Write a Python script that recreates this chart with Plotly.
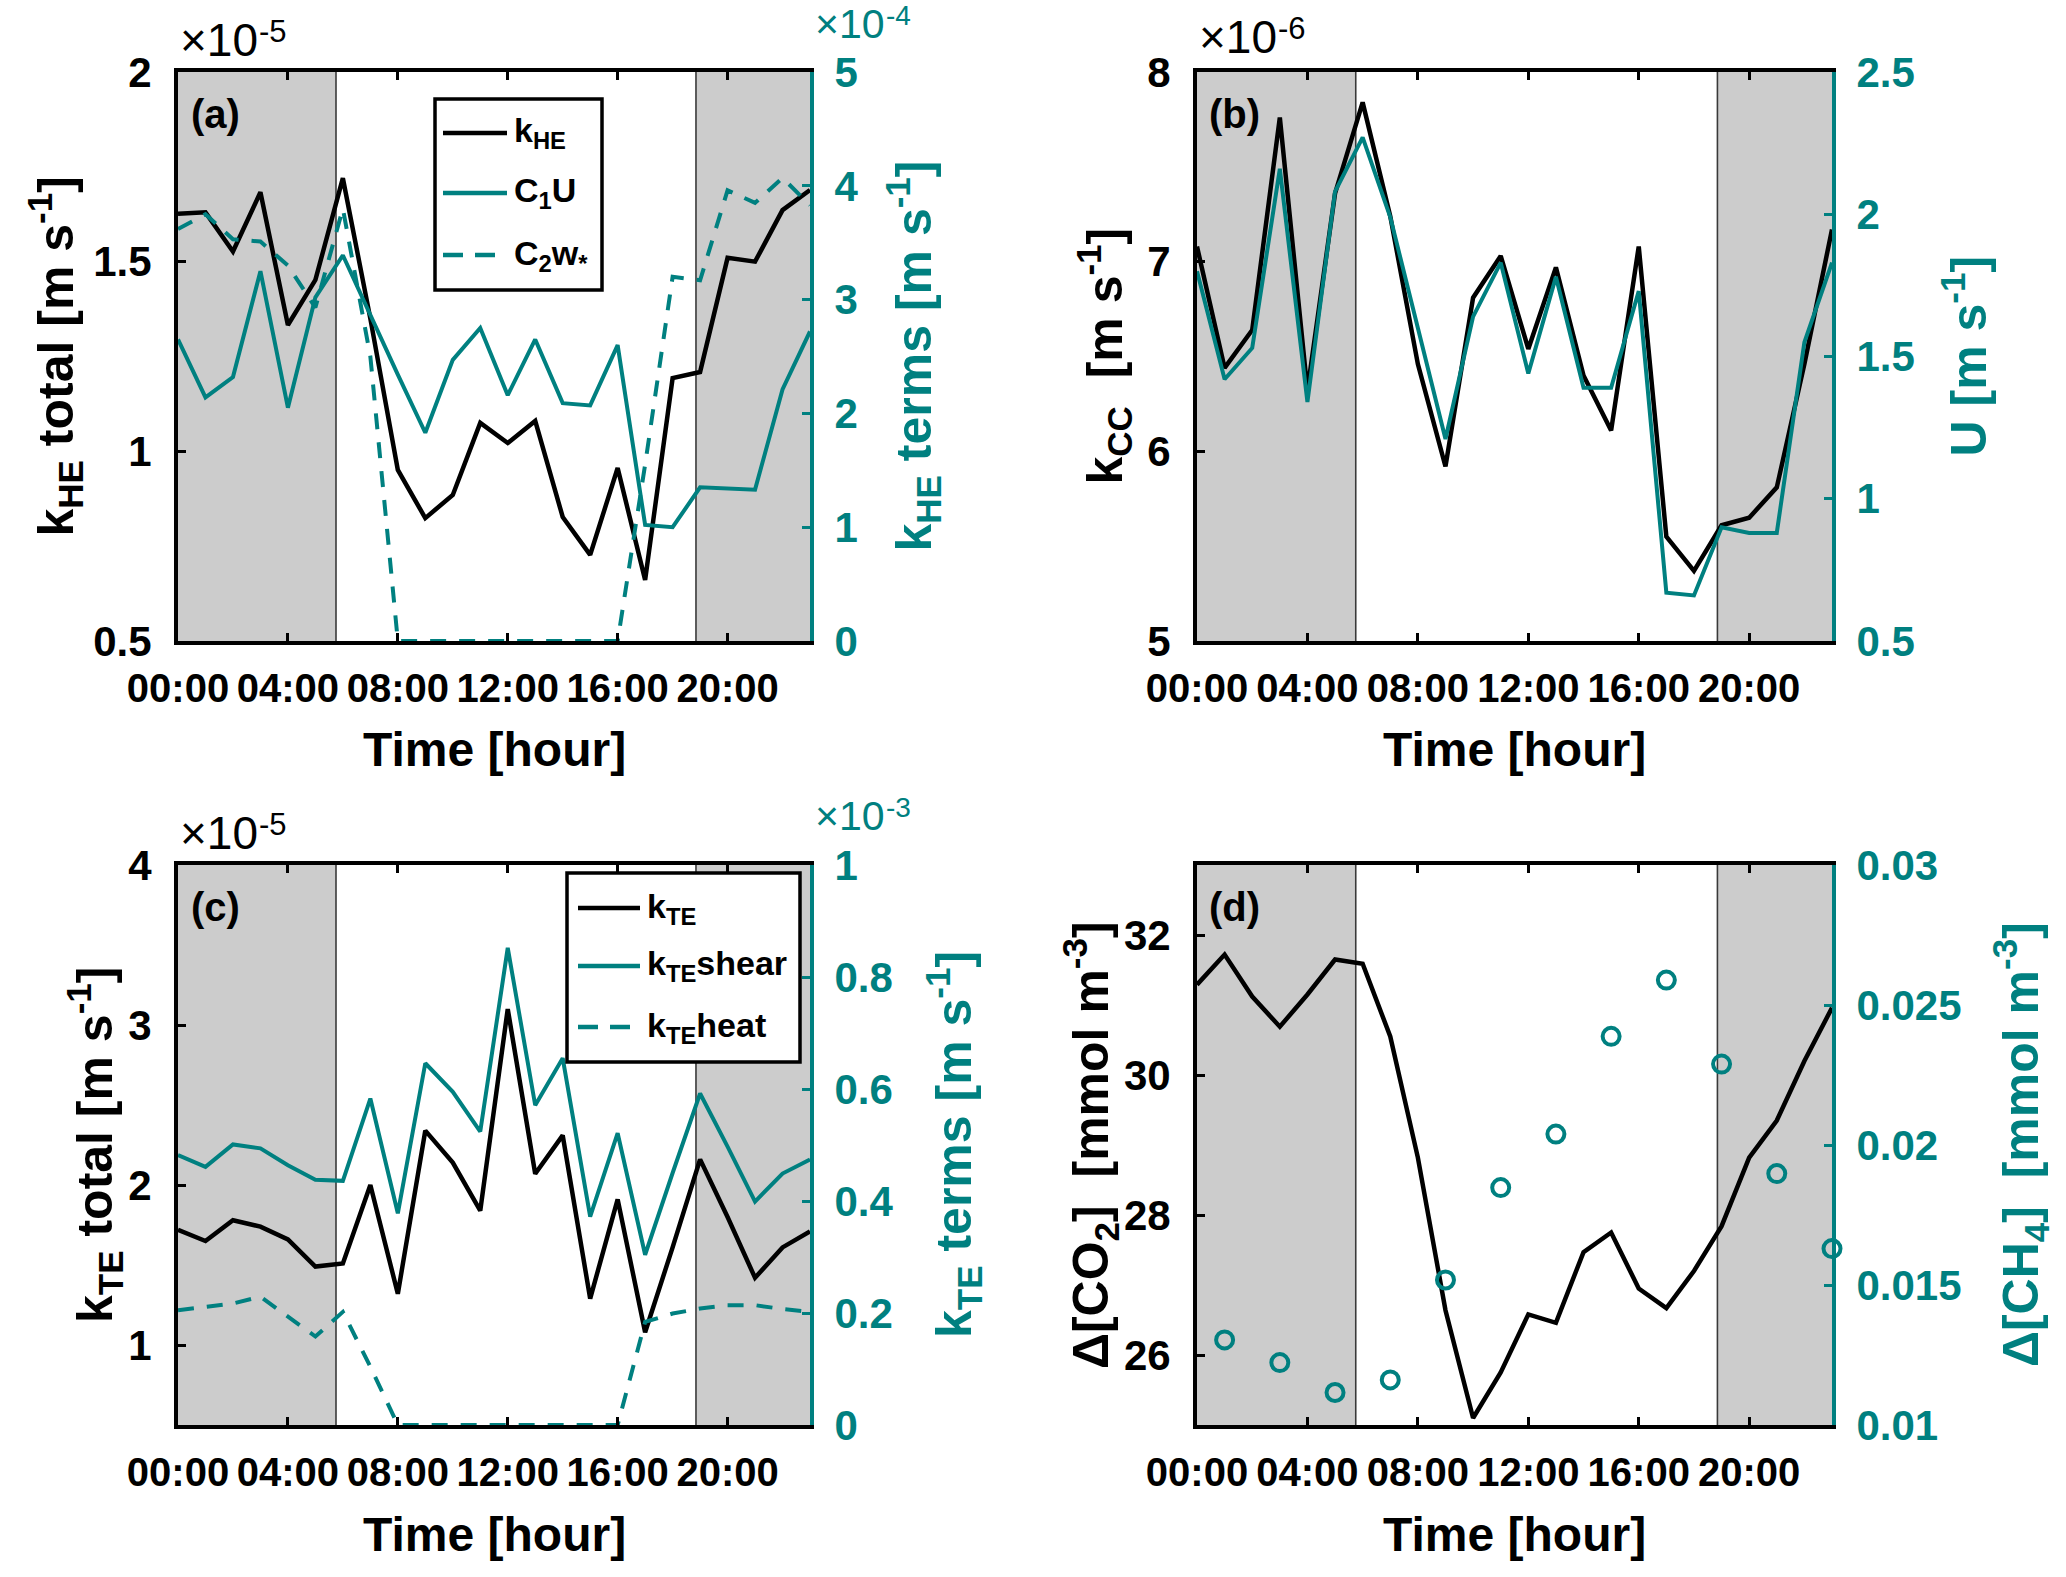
import plotly.graph_objects as go

W, H = 2066, 1577
TEAL = "#008080"
GRAY = "#CCCCCC"
FONT = "Liberation Sans"

# ---------------- data ----------------
hours = list(range(24))
tick_hours = [0, 4, 8, 12, 16, 20]
tick_labels = ["00:00", "04:00", "08:00", "12:00", "16:00", "20:00"]
sunrise, sunset = 5.75, 18.85

# panel (a)  k_HE total (x1e-5 m/s), terms (x1e-4 m/s)
k_he_total = [1.626, 1.63, 1.527, 1.683, 1.333, 1.452, 1.72, 1.35, 0.951, 0.824, 0.885, 1.075,
              1.022, 1.08, 0.827, 0.727, 0.956, 0.661, 1.193, 1.209, 1.51, 1.50, 1.636, 1.689]
c1_u = [2.65, 2.14, 2.32, 3.25, 2.05, 3.02, 3.39, 2.86, 2.34, 1.83, 2.47, 2.75,
        2.16, 2.65, 2.09, 2.07, 2.60, 1.02, 1.00, 1.35, 1.34, 1.33, 2.21, 2.72]
c2_wstar = [3.62, 3.75, 3.53, 3.51, 3.30, 2.93, 3.80, 2.50, 0.0, 0.0, 0.0, 0.0,
            0.0, 0.0, 0.0, 0.0, 0.0, 1.55, 3.20, 3.17, 3.96, 3.85, 4.07, 3.83]

# panel (b)  k_CC (x1e-6 m/s), U (m/s)
k_cc = [7.08, 6.44, 6.64, 7.76, 6.32, 7.36, 7.84, 7.24, 6.46, 5.92, 6.81, 7.03,
        6.54, 6.97, 6.40, 6.11, 7.08, 5.55, 5.37, 5.61, 5.65, 5.81, 6.46, 7.17]
wind_u = [1.80, 1.42, 1.53, 2.16, 1.34, 2.08, 2.27, 1.99, 1.60, 1.21, 1.64, 1.83,
          1.44, 1.78, 1.39, 1.39, 1.73, 0.67, 0.66, 0.90, 0.88, 0.88, 1.55, 1.83]

# panel (c)  k_TE total (x1e-5 m/s), terms (x1e-3 m/s)
k_te_total = [1.72, 1.65, 1.78, 1.74, 1.66, 1.49, 1.51, 2.00, 1.32, 2.34, 2.14, 1.84,
              3.10, 2.07, 2.31, 1.29, 1.91, 1.08, 1.61, 2.16, 1.80, 1.42, 1.61, 1.71]
k_te_shear = [0.482, 0.461, 0.501, 0.494, 0.464, 0.438, 0.436, 0.583, 0.378, 0.646, 0.595, 0.524,
              0.852, 0.571, 0.655, 0.372, 0.521, 0.304, 0.450, 0.592, 0.497, 0.399, 0.449, 0.474]
k_te_heat = [0.205, 0.211, 0.217, 0.229, 0.193, 0.158, 0.202, 0.104, 0.0, 0.0, 0.0, 0.0,
             0.0, 0.0, 0.0, 0.0, 0.0, 0.184, 0.199, 0.208, 0.214, 0.214, 0.207, 0.202]

# panel (d)  delta CO2 (mmol m-3), delta CH4 (mmol m-3)
d_co2 = [31.29, 31.72, 31.12, 30.69, 31.15, 31.65, 31.59, 30.55, 28.82, 26.64, 25.10, 25.75,
         26.58, 26.46, 27.47, 27.75, 26.95, 26.67, 27.20, 27.84, 28.82, 29.35, 30.20, 30.96]
ch4_hours = [1, 3, 5, 7, 9, 11, 13, 15, 17, 19, 21, 23]
d_ch4 = [0.01304, 0.01223, 0.01116, 0.01161, 0.01518, 0.01848, 0.02039, 0.02388, 0.02589,
         0.02289, 0.01898, 0.0163]

# axis ticks
a_left_ticks = [0.5, 1, 1.5, 2]
a_left_text = ["0.5", "1", "1.5", "2"]
a_right_ticks = [0, 1, 2, 3, 4, 5]
b_left_ticks = [5, 6, 7, 8]
b_right_ticks = [0.5, 1, 1.5, 2, 2.5]
b_right_text = ["0.5", "1", "1.5", "2", "2.5"]
c_left_ticks = [1, 2, 3, 4]
c_right_ticks = [0, 0.2, 0.4, 0.6, 0.8, 1]
c_right_text = ["0", "0.2", "0.4", "0.6", "0.8", "1"]
d_left_ticks = [26, 28, 30, 32]
d_right_ticks = [0.01, 0.015, 0.02, 0.025, 0.03]
d_right_text = ["0.01", "0.015", "0.02", "0.025", "0.03"]

# ---------------- layout helpers ----------------
def px(x):
    return x / W


def py(y):
    return 1 - y / H


panels = [
    dict(name="a", x=(178, 810), y=(72, 641), xa="x", yl="y", yr="y2"),
    dict(name="b", x=(1197, 1832), y=(72, 641), xa="x2", yl="y3", yr="y4"),
    dict(name="c", x=(178, 810), y=(865, 1425), xa="x3", yl="y5", yr="y6"),
    dict(name="d", x=(1197, 1832), y=(865, 1425), xa="x4", yl="y7", yr="y8"),
]

left_cfg = {
    "a": dict(range=[0.5, 2], tickvals=a_left_ticks, ticktext=a_left_text),
    "b": dict(range=[5, 8], tickvals=b_left_ticks, ticktext=[str(v) for v in b_left_ticks]),
    "c": dict(range=[0.5, 4], tickvals=c_left_ticks, ticktext=[str(v) for v in c_left_ticks]),
    "d": dict(range=[25, 33], tickvals=d_left_ticks, ticktext=[str(v) for v in d_left_ticks]),
}
right_cfg = {
    "a": dict(range=[0, 5], tickvals=a_right_ticks, ticktext=[str(v) for v in a_right_ticks]),
    "b": dict(range=[0.5, 2.5], tickvals=b_right_ticks, ticktext=b_right_text),
    "c": dict(range=[0, 1], tickvals=c_right_ticks, ticktext=c_right_text),
    "d": dict(range=[0.01, 0.03], tickvals=d_right_ticks, ticktext=d_right_text),
}

fig = go.Figure()


def axkey(a):
    return a[0] + "axis" + a[1:]


layout = dict(
    width=W, height=H, template="none",
    paper_bgcolor="white", plot_bgcolor="white",
    margin=dict(l=0, r=0, t=0, b=0),
    showlegend=False,
    font=dict(family=FONT, size=40, color="black", weight="bold"),
)

shapes = []
annotations = []

for p in panels:
    n = p["name"]
    layout[axkey(p["xa"])] = dict(
        domain=[px(p["x"][0]), px(p["x"][1])], anchor=p["yl"],
        range=[0, 23], tickvals=tick_hours, ticktext=tick_labels,
        ticks="inside", ticklen=8, tickwidth=3, tickcolor="black",
        showline=True, linecolor="black", linewidth=4, mirror="ticks",
        showgrid=False, zeroline=False, ticklabelstandoff=9,
        tickfont=dict(family=FONT, size=40, color="black", weight="bold"),
    )
    layout[axkey(p["yl"])] = dict(
        domain=[py(p["y"][1]), py(p["y"][0])], anchor=p["xa"],
        ticks="inside", ticklen=8, tickwidth=3, tickcolor="black",
        showline=True, linecolor="black", linewidth=4, mirror=False,
        showgrid=False, zeroline=False, ticklabelstandoff=14,
        tickfont=dict(family=FONT, size=42, color="black", weight="bold"),
        **left_cfg[n],
    )
    layout[axkey(p["yr"])] = dict(
        overlaying=p["yl"], side="right", anchor=p["xa"],
        ticks="inside", ticklen=8, tickwidth=3, tickcolor=TEAL,
        showline=True, linecolor=TEAL, linewidth=4,
        showgrid=False, zeroline=False, ticklabelstandoff=12,
        tickfont=dict(family=FONT, size=42, color=TEAL, weight="bold"),
        **right_cfg[n],
    )
    ydom = p["yl"] + " domain"
    for x0, x1 in [(0, sunrise), (sunset, 23)]:
        shapes.append(dict(type="rect", xref=p["xa"], yref=ydom, x0=x0, x1=x1, y0=0, y1=1,
                           fillcolor=GRAY, line=dict(width=0), layer="below"))
    for xv in [sunrise, sunset]:
        shapes.append(dict(type="line", xref=p["xa"], yref=ydom, x0=xv, x1=xv, y0=0, y1=1,
                           line=dict(color="#3a3a3a", width=1.6), layer="below"))
    cx = (p["x"][0] + p["x"][1]) / 2
    annotations.append(dict(text="Time [hour]", xref="paper", yref="paper",
                            x=px(cx), y=py(p["y"][1] + 109), xanchor="center", yanchor="middle",
                            showarrow=False, font=dict(family=FONT, size=48, color="black", weight="bold")))
    annotations.append(dict(text="(" + n + ")", xref="paper", yref="paper",
                            x=px(p["x"][0] + 37), y=py(p["y"][0] + 42), xanchor="center", yanchor="middle",
                            showarrow=False, font=dict(family=FONT, size=40, color="black", weight="bold")))

# ---------------- traces ----------------
def line_trace(yvals, xa, ya, color, dash="solid", width=4.5):
    return go.Scatter(x=hours, y=yvals, xaxis=xa, yaxis=ya, mode="lines",
                      line=dict(color=color, width=width, dash=dash), hoverinfo="skip")

fig.add_trace(line_trace(k_he_total, "x", "y", "black"))
fig.add_trace(line_trace(c1_u, "x", "y2", TEAL, width=4))
fig.add_trace(line_trace(c2_wstar, "x", "y2", TEAL, dash="16px,13px", width=4))

fig.add_trace(line_trace(k_cc, "x2", "y3", "black"))
fig.add_trace(line_trace(wind_u, "x2", "y4", TEAL, width=4))

fig.add_trace(line_trace(k_te_total, "x3", "y5", "black"))
fig.add_trace(line_trace(k_te_shear, "x3", "y6", TEAL, width=4))
fig.add_trace(line_trace(k_te_heat, "x3", "y6", TEAL, dash="16px,13px", width=4))

fig.add_trace(line_trace(d_co2, "x4", "y7", "black"))
fig.add_trace(go.Scatter(x=ch4_hours, y=d_ch4, xaxis="x4", yaxis="y8", mode="markers",
                         marker=dict(symbol="circle-open", size=17, color=TEAL, line=dict(width=4, color=TEAL)),
                         cliponaxis=False, hoverinfo="skip"))

# ---------------- axis titles (rotated) ----------------
def vtitle(text, x, yc, color):
    annotations.append(dict(text=text, xref="paper", yref="paper", x=px(x), y=py(yc),
                            xanchor="center", yanchor="middle", textangle=-90, showarrow=False,
                            font=dict(family=FONT, size=50, color=color, weight="bold")))

ya_c = (72 + 641) / 2
yc_c = (865 + 1425) / 2
vtitle("k<sub>HE</sub> total [m s<sup>-1</sup>]", 55, ya_c, "black")
vtitle("k<sub>HE</sub> terms [m s<sup>-1</sup>]", 913, ya_c, TEAL)
vtitle("k<sub>CC</sub>  [m s<sup>-1</sup>]", 1104, ya_c, "black")
vtitle("U [m s<sup>-1</sup>]", 1964, ya_c, TEAL)
vtitle("k<sub>TE</sub> total [m s<sup>-1</sup>]", 94, yc_c, "black")
vtitle("k<sub>TE</sub> terms [m s<sup>-1</sup>]", 953, yc_c, TEAL)
vtitle("Δ[CO<sub>2</sub>]  [mmol m<sup>-3</sup>]", 1090, yc_c, "black")
vtitle("Δ[CH<sub>4</sub>]  [mmol m<sup>-3</sup>]", 2020, yc_c, TEAL)

# ---------------- exponent labels (base and power as two texts) ----------------
def expo(power, x, ybottom, color, size):
    annotations.append(dict(text="×10", xref="paper", yref="paper", x=px(x), y=py(ybottom),
                            xanchor="left", yanchor="bottom", showarrow=False,
                            font=dict(family=FONT, size=size, color=color, weight="normal")))
    annotations.append(dict(text=power, xref="paper", yref="paper",
                            x=px(x + 1.72 * size), y=py(ybottom - 0.38 * size),
                            xanchor="left", yanchor="bottom", showarrow=False,
                            font=dict(family=FONT, size=round(size * 0.68), color=color, weight="normal")))

expo("-5", 178, 68, "black", 46)
expo("-4", 813, 49, TEAL, 41)
expo("-6", 1197, 65, "black", 46)
expo("-5", 178, 861, "black", 46)
expo("-3", 813, 841, TEAL, 41)

# ---------------- manual legends ----------------
def legend_box(x0, x1, y0, y1):
    shapes.append(dict(type="rect", xref="paper", yref="paper", x0=px(x0), x1=px(x1),
                       y0=py(y1), y1=py(y0), fillcolor="white",
                       line=dict(color="black", width=3.5), layer="above"))


def legend_item(lx0, lx1, yv, color, dash, text):
    shapes.append(dict(type="line", xref="paper", yref="paper", x0=px(lx0), x1=px(lx1),
                       y0=py(yv), y1=py(yv), line=dict(color=color, width=4.5, dash=dash), layer="above"))
    annotations.append(dict(text=text, xref="paper", yref="paper", x=px(lx1 + 5), y=py(yv),
                            xanchor="left", yanchor="middle", showarrow=False,
                            font=dict(family=FONT, size=34, color="black", weight="bold")))

legend_box(435, 602, 99, 290)
legend_item(443, 507, 133, "black", "solid", "k<sub>HE</sub>")
legend_item(443, 507, 193, TEAL, "solid", "C<sub>1</sub>U")
legend_item(443, 507, 255, TEAL, "20px,12px", "C<sub>2</sub>w<sub>*</sub>")

legend_box(567, 800, 873, 1062)
legend_item(578, 640, 908, "black", "solid", "k<sub>TE</sub>")
legend_item(578, 640, 966, TEAL, "solid", "k<sub>TE</sub>shear")
legend_item(578, 640, 1027, TEAL, "20px,12px", "k<sub>TE</sub>heat")

layout["shapes"] = shapes
layout["annotations"] = annotations
fig.update_layout(**layout)

fig.write_html("out.html", config={"displayModeBar": False},
               post_script="document.body.style.margin='0px';")
